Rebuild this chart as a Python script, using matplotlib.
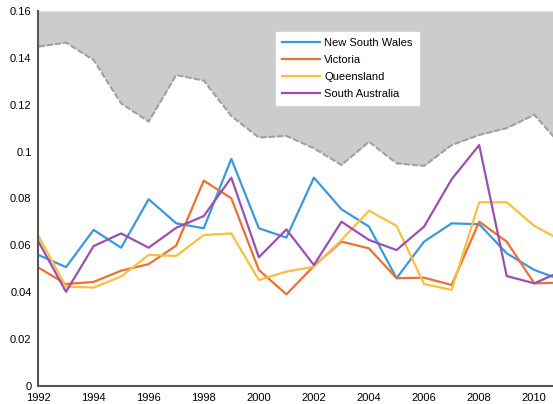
import matplotlib
matplotlib.use("Agg")
import matplotlib.pyplot as plt

plt.rcParams['font.family'] = ['Liberation Sans', 'DejaVu Sans']

years = list(range(1992, 2012))

nsw = [0.0559, 0.0507, 0.0666, 0.0590, 0.0797, 0.0694, 0.0673, 0.0969, 0.0673, 0.0633,
       0.0889, 0.0754, 0.0680, 0.0460, 0.0616, 0.0694, 0.0690, 0.0566, 0.0495, 0.0452]
victoria = [0.0505, 0.0435, 0.0444, 0.0492, 0.0520, 0.0599, 0.0876, 0.0801, 0.0495, 0.0391,
            0.0512, 0.0616, 0.0587, 0.0460, 0.0462, 0.0431, 0.0701, 0.0616, 0.0438, 0.0441]
queensland = [0.0640, 0.0424, 0.0420, 0.0467, 0.0559, 0.0555, 0.0644, 0.0651, 0.0452, 0.0488,
              0.0509, 0.0623, 0.0748, 0.0683, 0.0435, 0.0410, 0.0784, 0.0784, 0.0683, 0.0620]
south_aus = [0.0616, 0.0402, 0.0597, 0.0651, 0.0590, 0.0675, 0.0725, 0.0889, 0.0549, 0.0668,
             0.0516, 0.0701, 0.0623, 0.0580, 0.0680, 0.0882, 0.1028, 0.0469, 0.0438, 0.0490]
upper = [0.1448, 0.1465, 0.1391, 0.1206, 0.1128, 0.1327, 0.1303, 0.1152, 0.1060, 0.1067,
         0.1014, 0.0943, 0.1042, 0.0950, 0.0939, 0.1028, 0.1071, 0.1100, 0.1157, 0.1024]

y_ticks = [0, 0.02, 0.04, 0.06, 0.08, 0.1, 0.12, 0.14, 0.16]
y_labels = ['0', '0.02', '0.04', '0.06', '0.08', '0.1', '0.12', '0.14', '0.16']
x_ticks = list(range(1992, 2011, 2))

fig = plt.figure(figsize=(5.53, 4.04), dpi=100)
ax = fig.add_axes([0.0696, 0.0446, 0.9304, 0.9282])

ax.fill_between(years, upper, 0.16, color='#cccccc', lw=0)
ax.plot(years, upper, color='#a0a0a0', lw=1.5, linestyle=(0, (3, 1)))

ax.plot(years, nsw, color='#3a9ad9', lw=1.6, label='New South Wales')
ax.plot(years, victoria, color='#ec7035', lw=1.6, label='Victoria')
ax.plot(years, queensland, color='#f8c040', lw=1.6, label='Queensland')
ax.plot(years, south_aus, color='#9b50b0', lw=1.6, label='South Australia')

ax.set_xlim(1992, 2010.68)
ax.set_ylim(0, 0.16)
ax.set_yticks(y_ticks)
ax.set_yticklabels(y_labels)
ax.set_xticks(x_ticks)
ax.tick_params(length=0, labelsize=8)
ax.tick_params(axis='y', pad=5)
ax.tick_params(axis='x', pad=5)

for side in ['top', 'right']:
    ax.spines[side].set_visible(False)
for side in ['left', 'bottom']:
    ax.spines[side].set_color('#555555')
    ax.spines[side].set_linewidth(1.5)

leg = ax.legend(loc='upper left', bbox_to_anchor=(0.4616, 0.944), borderaxespad=0,
                fontsize=8, frameon=True, fancybox=False, handlelength=3.4,
                labelspacing=0.62, handletextpad=0.4, borderpad=0.55)
leg.get_frame().set_facecolor('white')
leg.get_frame().set_edgecolor('white')
leg.get_frame().set_alpha(1)

fig.savefig('out.png', dpi=100)
